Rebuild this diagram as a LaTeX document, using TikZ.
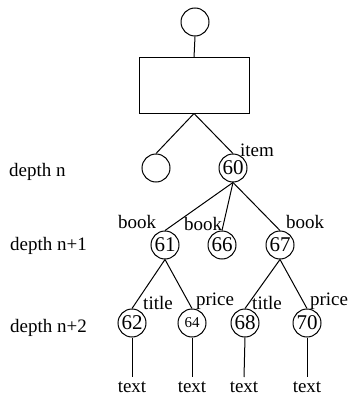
\documentclass[tikz,border=0pt]{standalone}
\usepackage{fontspec}
\setmainfont{Liberation Serif}
\begin{document}
\begin{tikzpicture}[x=1pt,y=-1pt,
  every node/.style={font=\fontsize{19}{22}\selectfont},
  vert/.style={draw,circle,minimum size=28pt,inner sep=0pt,line width=1pt,
    font=\fontsize{21}{24}\selectfont},
  box/.style={draw,rectangle,minimum width=110pt,minimum height=55pt,line width=1pt},
  lbl/.style={inner sep=0pt},
  edge/.style={line width=1pt}]
\useasboundingbox (0,0) rectangle (348,396);

% root and the rectangle beneath it
\node[vert] (root) at (195,22) {};
\node[box] (blk) at (194,85.5) {};
\node[vert] (leftc) at (156,168) {};
\node[vert] (n60) at (233,168) {60};

% depth n+1
\node[vert] (n61) at (165,245) {61};
\node[vert] (n66) at (222,245) {66};
\node[vert] (n67) at (280,245) {67};

% depth n+2
\node[vert] (n62) at (132,323) {62};
\node[vert,font=\fontsize{15}{18}\selectfont] (n64) at (192,323) {64};
\node[vert] (n68) at (245,323) {68};
\node[vert] (n70) at (307,323) {70};

% text leaves
\node[lbl] (t62) at (132,387) {text};
\node[lbl] (t64) at (192,387) {text};
\node[lbl] (t68) at (244,387) {text};
\node[lbl] (t70) at (307,387) {text};

% depth captions
\node[lbl,anchor=west] (dn) at (9,172) {depth n};
\node[lbl,anchor=west] (dn1) at (10,246) {depth n+1};
\node[lbl,anchor=west] (dn2) at (10,328) {depth n+2};

% edge labels
\node[lbl] (litem) at (257,150) {item};
\node[lbl] (lb1) at (137,222) {book};
\node[lbl] (lb2) at (203,224) {book};
\node[lbl] (lb3) at (305,222) {book};
\node[lbl] (lt1) at (158,303) {title};
\node[lbl] (lp1) at (215,301) {price};
\node[lbl] (lt2) at (267,303) {title};
\node[lbl] (lp2) at (329,301) {price};

% connectors
\draw[edge] (root.south) -- (blk.north);
\draw[edge] (blk.south) -- (leftc.north);
\draw[edge] (blk.south) -- (n60.north);
\draw[edge] (n60.south) -- (n61.north);
\draw[edge] (n60.south) -- (n66.north);
\draw[edge] (n60.south) -- (n67.north);
\draw[edge] (n61.south) -- (n62.north);
\draw[edge] (n61.south) -- (n64.north);
\draw[edge] (n67.south) -- (n68.north);
\draw[edge] (n67.south) -- (n70.north);
\coordinate (e62) at (132,377);
\coordinate (e64) at (192,377);
\coordinate (e68) at (244,377);
\coordinate (e70) at (307,377);
\draw[edge] (n62.south) -- (e62);
\draw[edge] (n64.south) -- (e64);
\draw[edge] (n68.south) -- (e68);
\draw[edge] (n70.south) -- (e70);
\end{tikzpicture}
\end{document}
